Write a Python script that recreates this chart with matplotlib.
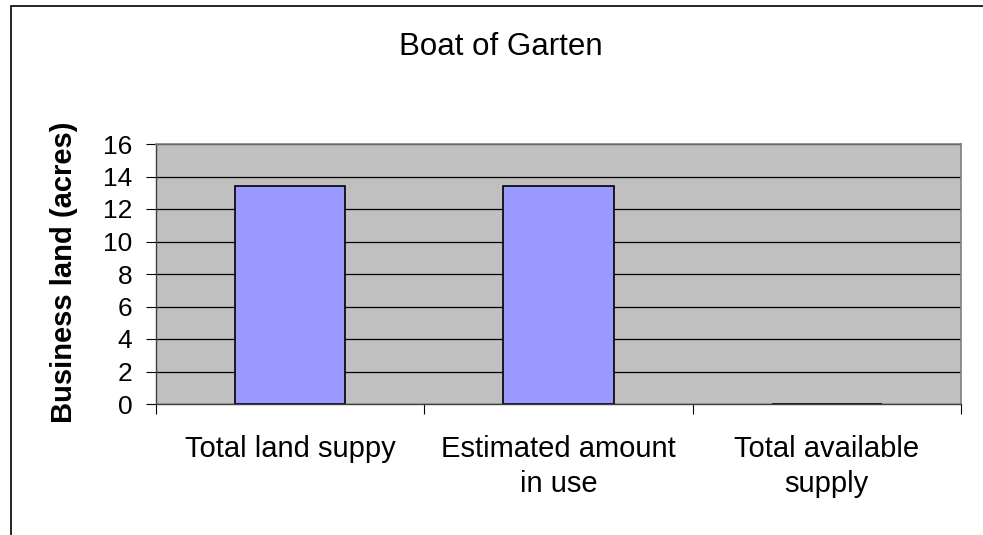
import matplotlib.pyplot as plt
from matplotlib.patches import Rectangle

# chart data
categories = ["Total land suppy", "Estimated amount\nin use", "Total available\nsupply"]
values = [13.4, 13.4, 0]
yticks = [0, 2, 4, 6, 8, 10, 12, 14, 16]

plt.rcParams['font.family'] = ['Liberation Sans', 'DejaVu Sans']

W, H = 983, 535
fig = plt.figure(figsize=(W / 100, H / 100), dpi=100)

# outer chart border (right and bottom run off the image)
fig.patches.append(Rectangle((11 / W, -0.05), 1.2, (H - 6) / H + 0.05,
                             transform=fig.transFigure, fill=False,
                             edgecolor='black', linewidth=1.2))

left, right, top, bottom = 156, 961, 144, 404
ax = fig.add_axes([left / W, 1 - bottom / H, (right - left) / W, (bottom - top) / H])
ax.set_facecolor('#c0c0c0')

x = range(len(categories))
ax.bar(x, values, width=0.41, color='#9999ff', edgecolor='black', linewidth=1.2, zorder=3)

ax.set_xlim(-0.5, len(categories) - 0.5)
ax.set_ylim(0, 16)
ax.set_yticks(yticks)
ax.yaxis.grid(True, color='black', linewidth=0.9, zorder=0)
ax.set_axisbelow(True)

for s in ['top', 'right']:
    ax.spines[s].set_color('#808080')
    ax.spines[s].set_linewidth(1.2)
for s in ['left', 'bottom']:
    ax.spines[s].set_color('#404040')
    ax.spines[s].set_linewidth(1.0)
ax.spines['bottom'].set_zorder(4)

ax.tick_params(axis='y', labelsize=19, length=7, direction='out', pad=10)
ax.set_xticks([-0.5, 0.5, 1.5, 2.5])
ax.set_xticklabels([])
ax.tick_params(axis='x', length=7, direction='out')
for i, c in enumerate(categories):
    ax.text(i, -0.12, c, ha='center', va='top', fontsize=21, linespacing=1.3,
            transform=ax.get_xaxis_transform())

fig.text(64 / W, 1 - 272 / H, "Business land (acres)", rotation=90,
         ha='center', va='center', fontsize=21, fontweight='bold')
fig.text(501 / W, 1 - 47 / H, "Boat of Garten", ha='center', va='center', fontsize=22.5)

fig.savefig("out.png", dpi=100)
